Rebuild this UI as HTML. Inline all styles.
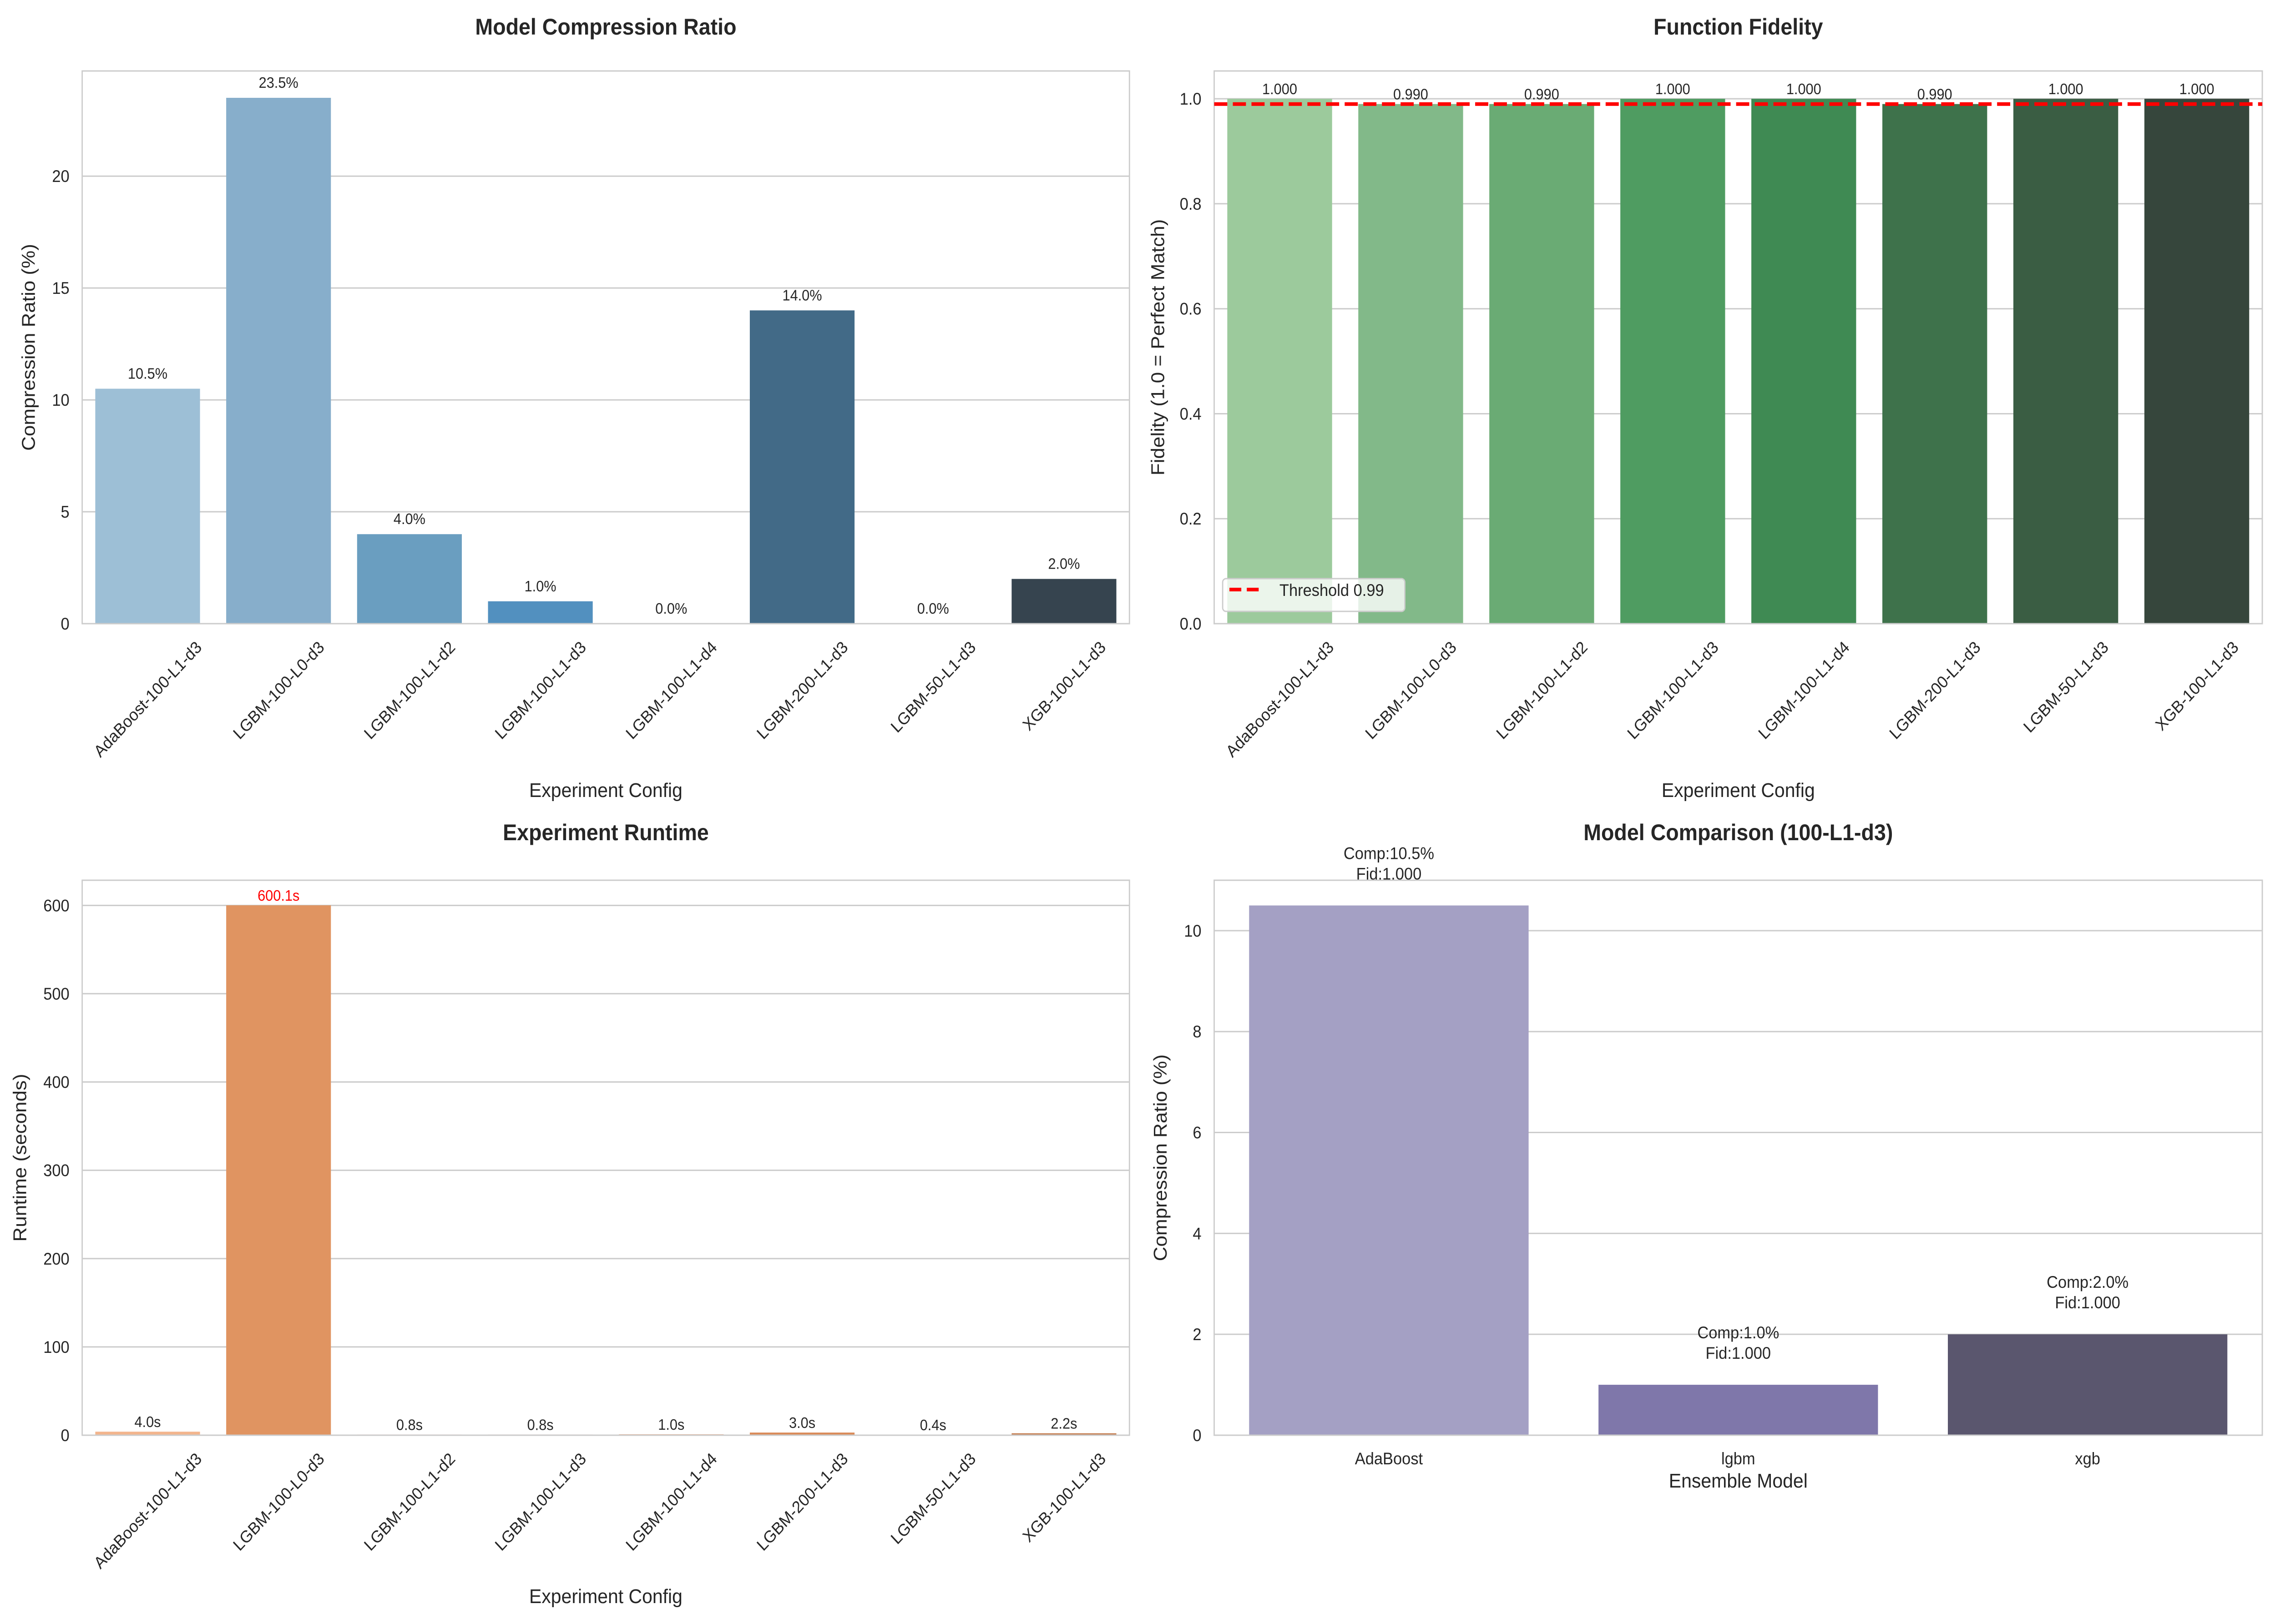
<!DOCTYPE html>
<html><head><meta charset="utf-8"><style>
html,body{margin:0;padding:0;background:#fff;overflow:hidden}
svg{display:block;font-family:"Liberation Sans",Arial,sans-serif;width:100vw;height:100vh}
</style></head><body>
<svg id="c" viewBox="0 0 5370 3570" preserveAspectRatio="none" xmlns="http://www.w3.org/2000/svg"></svg>
<script>
const configs=["AdaBoost-100-L1-d3","LGBM-100-L0-d3","LGBM-100-L1-d2","LGBM-100-L1-d3","LGBM-100-L1-d4","LGBM-200-L1-d3","LGBM-50-L1-d3","XGB-100-L1-d3"];
const compression=[10.5,23.5,4.0,1.0,0.0,14.0,0.0,2.0];
const fidelity=[1.0,0.99,0.99,1.0,1.0,0.99,1.0,1.0];
const runtime=[4.0,600.1,0.8,0.8,1.0,3.0,0.4,2.2];
const models=["AdaBoost","lgbm","xgb"];
const modelComp=[10.5,1.0,2.0];
const modelFid=[1.0,1.0,1.0];
const compTicks=[0,5,10,15,20];
const fidTicks=[0,0.2,0.4,0.6,0.8,1.0];
const rtTicks=[0,100,200,300,400,500,600];
const mcTicks=[0,2,4,6,8,10];
const threshold=0.99;

const NS="http://www.w3.org/2000/svg";
const svg=document.getElementById('c');
function el(tag,attrs,parent,text){const e=document.createElementNS(NS,tag);for(const k in attrs)e.setAttribute(k,attrs[k]);if(text!==undefined)e.textContent=text;(parent||svg).appendChild(e);return e;}

function panel(o){
  const g=el('g',{});
  
  
  const L=o.x0,R=o.x1,T=o.y0,B=o.y1;
  const ys=v=>B-(v)/(o.ymax)*(B-T);
  const n=o.cats.length, step=(R-L)/n;
  const xs=i=>L+step*(i+0.5);
  o.ticks.forEach(t=>{
    const y=ys(t);
    const gl=el('line',{x1:L,x2:R,y1:y,y2:y,stroke:'#cccccc','stroke-width':3},g);
    
    
    const tl=el('text',{x:L-30,y:y+13,'text-anchor':'end','font-size':37,fill:'#262626'},g,o.fmt(t));
    
    
  });
  o.vals.forEach((v,i)=>{
    const w=step*0.8, x=xs(i)-w/2, y=ys(v);
    const r=el('rect',{x:x,y:y,width:w,height:Math.max(B-y,0),fill:o.colors[i]},g);
    
    
    if(o.label){o.label(g,xs(i),y,v,i);}
  });
  const fr=el('rect',{x:L,y:T,width:R-L,height:B-T,fill:'none',stroke:'#cccccc','stroke-width':3},g);
  
  
  o.cats.forEach((c,i)=>{
    let t;
    if(o.rot){
      t=el('text',{x:0,y:0,'text-anchor':'middle','font-size':37,fill:'#262626'},g,c);
      const len=t.getComputedTextLength();
      const h=37*1.15;
      const bh=(len+h)*0.7071;
      const cx=xs(i), cy=B+30+bh/2;
      t.setAttribute('x',cx);
      t.setAttribute('y',cy+13);
      t.setAttribute('transform',`rotate(-45 ${cx} ${cy})`);
    } else {
      t=el('text',{x:xs(i),y:B+64,'text-anchor':'middle','font-size':37,fill:'#262626'},g,c);
    }
    
    
  });
  const tt=el('text',{x:(L+R)/2,y:o.titleY,'text-anchor':'middle','font-size':50,'font-weight':'bold',fill:'#262626'},g,o.title);
  
  
  const xl=el('text',{x:(L+R)/2,y:o.xlY,'text-anchor':'middle','font-size':44,fill:'#262626'},g,o.xlabel);
  
  
  const yl=el('text',{x:o.ylX,y:(T+B)/2,'text-anchor':'middle','font-size':44,fill:'#262626',transform:`rotate(-90 ${o.ylX} ${(T+B)/2})`},g,o.ylabel);
  
  
  return {g,ys,xs,L,R,T,B};
}

panel({name:'compression-chart',x0:194,x1:2666,y0:156,y1:1371,ymax:24.7,ticks:compTicks,fmt:t=>String(t),
  cats:configs,vals:compression,rot:true,
  colors:['#9dbfd6','#87aecb','#6a9ec0','#5290bf','#4a7fa8','#426a87','#3d5567','#36444f'],
  title:'Model Compression Ratio',titleY:76,xlabel:'Experiment Config',xlY:1752,ylabel:'Compression Ratio (%)',ylX:82,
  label:(g,x,y,v)=>{const t=el('text',{x:x,y:y-22,'text-anchor':'middle','font-size':33,fill:'#262626'},g,v.toFixed(1)+'%');}
});
const tr=panel({name:'fidelity-chart',x0:2866,x1:5340,y0:156,y1:1371,ymax:1.053,ticks:fidTicks,fmt:t=>t.toFixed(1),
  cats:configs,vals:fidelity,rot:true,
  colors:['#9cca9c','#82b989','#6aab74','#4f9c61','#3f8a53','#3e724b','#3a5d43','#36463c'],
  title:'Function Fidelity',titleY:76,xlabel:'Experiment Config',xlY:1752,ylabel:'Fidelity (1.0 = Perfect Match)',ylX:2748,
  label:(g,x,y,v)=>{const t=el('text',{x:x,y:y-10,'text-anchor':'middle','font-size':33,fill:'#262626'},g,v.toFixed(3));}
});
{const y=tr.ys(threshold);
 const l=el('line',{x1:tr.L,x2:tr.R,y1:y,y2:y,stroke:'#ff0000','stroke-width':8,'stroke-dasharray':'31 13'});
 
 const lg=el('g',{});
 el('rect',{x:2886,y:1272,width:430,height:72,rx:8,fill:'#ffffff','fill-opacity':0.8,stroke:'#cccccc','stroke-width':3},lg);
 el('line',{x1:2902,x2:2978,y1:1296,y2:1296,stroke:'#ff0000','stroke-width':8,'stroke-dasharray':'28 13'},lg);
 const lt=el('text',{x:3020,y:1310,'font-size':37,fill:'#262626'},lg,'Threshold 0.99');
 }
panel({name:'runtime-chart',x0:194,x1:2666,y0:1935,y1:3155,ymax:628.5,ticks:rtTicks,fmt:t=>String(t),
  cats:configs,vals:runtime,rot:true,
  colors:['#f3b58d','#e09461','#f0a070','#ec9a65','#e4915c','#da8a58','#cf8455','#c57e51'],
  title:'Experiment Runtime',titleY:1847,xlabel:'Experiment Config',xlY:3524,ylabel:'Runtime (seconds)',ylX:62,
  label:(g,x,y,v)=>{const t=el('text',{x:x,y:y-10,'text-anchor':'middle','font-size':33,fill:v>300?'#ff0000':'#262626'},g,v.toFixed(1)+'s');}
});
panel({name:'model-comparison-chart',x0:2866,x1:5340,y0:1935,y1:3155,ymax:11.0,ticks:mcTicks,fmt:t=>String(t),
  cats:models,vals:modelComp,rot:false,
  colors:['#a4a0c4','#7f77aa','#5a566e'],
  title:'Model Comparison (100-L1-d3)',titleY:1847,xlabel:'Ensemble Model',xlY:3270,ylabel:'Compression Ratio (%)',ylX:2754,
  label:(g,x,y,v,i)=>{
    const a=el('text',{x:x,y:y-102,'text-anchor':'middle','font-size':37,fill:'#262626'},g,'Comp:'+v.toFixed(1)+'%');
    
    const b=el('text',{x:x,y:y-57,'text-anchor':'middle','font-size':37,fill:'#262626'},g,'Fid:'+modelFid[i].toFixed(3));
    }
});
</script>
</body></html>
